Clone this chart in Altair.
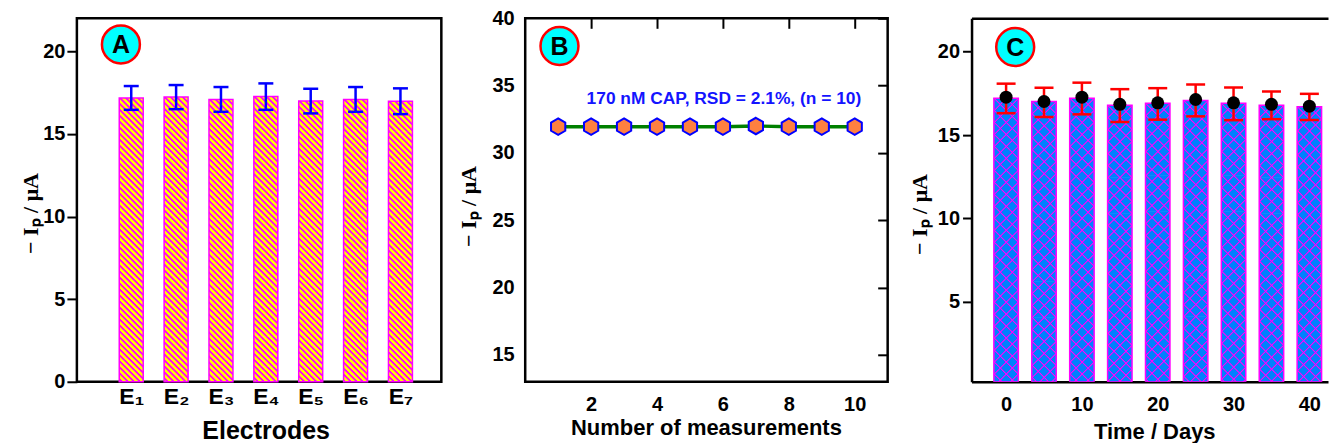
import json
import altair as alt
import pandas as pd

SANS = "Liberation Sans"
SERIF = "Liberation Serif"

# ---------------- data ----------------
# Panel A: reproducibility of 7 electrodes
electrodes = ["E₁", "E₂", "E₃", "E₄", "E₅", "E₆", "E₇"]
electrode_pos = [1, 2, 3, 4, 5, 6, 7]
a_current = [17.18, 17.23, 17.09, 17.26, 16.99, 17.09, 16.98]
a_err = [0.72, 0.73, 0.75, 0.80, 0.745, 0.75, 0.78]

# Panel B: repeatability, 10 measurements
measurement_no = [1, 2, 3, 4, 5, 6, 7, 8, 9, 10]
b_current = [31.95, 31.95, 31.95, 31.95, 31.95, 31.95, 32.0, 31.95, 31.95, 31.95]
b_note = ["170 nM CAP, RSD = 2.1%, (n = 10)"]
b_note_x = [6.03]
b_note_y = [33.97]

# Panel C: stability over days
days = [0, 5, 10, 15, 20, 25, 30, 35, 40]
c_bar = [17.21, 17.01, 17.21, 16.78, 16.90, 17.07, 16.90, 16.78, 16.70]
c_dot = [17.27, 17.01, 17.27, 16.84, 16.93, 17.13, 16.93, 16.84, 16.73]
c_low = [16.31, 16.08, 16.24, 15.78, 15.92, 16.12, 15.89, 15.95, 15.90]
c_high = [18.08, 17.83, 18.14, 17.75, 17.81, 18.03, 17.85, 17.61, 17.47]

# Panel letters
panel_letters = ["A", "B", "C"]
letter_x = [0.77, 1.04, 1.2]
letter_y = [20.42, 37.94, 20.28]

y_title = "−   Iₚ   /   μA"

H = 364
A_DOMAIN_Y = [0, 22]
C_DOMAIN_Y = [0.2, 22]


# ---------------- helpers ----------------
def stripe_gradient(w, h, period, line_w, line, bg, direction, soft=1.0):
    """Linear gradient drawing 45-degree stripes (softened edges) in a w x h box."""
    r = w / h
    k = (1 + r) / (1 + r * r)
    total = w + h
    hs = soft / 2.0
    pts = []  # (s, colour)
    s = 0.0
    pts.append((0.0, line))
    while s < total + period:
        pts.append((s + hs, line))
        pts.append((s + line_w - hs, line))
        pts.append((s + line_w + hs, bg))
        pts.append((s + period - hs, bg))
        s += period
    stops = []
    last = -1.0
    for sv, col in pts:
        off = min(max(sv / total, 0.0), 1.0)
        if off < last:
            continue
        stops.append(alt.GradientStop(offset=round(off, 6), color=col))
        last = off
        if off >= 1.0:
            break
    if direction == "down":
        x1, y1, x2, y2 = 0, 1, k * r, 1 - k
    else:
        x1, y1, x2, y2 = 0, 0, k * r, k
    return alt.LinearGradient(gradient="linear", stops=stops,
                              x1=round(x1, 6), y1=round(y1, 6),
                              x2=round(x2, 6), y2=round(y2, 6))


def segment_table(positions, tops, seg, eps, bottom):
    """Split every bar into equal pieces (from its top downward) for the hatch fill."""
    rows = []
    for p, t in zip(positions, tops):
        k = 1
        while t - (k - 1) * seg > bottom:
            rows.append({"pos": p, "s_lo": t - k * seg - eps, "s_hi": t - (k - 1) * seg})
            k += 1
    return pd.DataFrame(rows)


def letter_layers(idx, xs, ys):
    df = pd.DataFrame({"x": [letter_x[idx]], "y": [letter_y[idx]], "t": [panel_letters[idx]]})
    circ = alt.Chart(df).mark_point(shape="circle", filled=True, fill="#00ffff",
                                    stroke="#ff0000", strokeWidth=2.5, size=1444,
                                    opacity=1).encode(
        x=alt.X("x:Q", scale=xs, axis=None), y=alt.Y("y:Q", scale=ys, axis=None))
    txt = alt.Chart(df).mark_text(font=SANS, fontWeight="bold", fontSize=25,
                                  color="black", dy=1).encode(
        x=alt.X("x:Q", scale=xs, axis=None), y=alt.Y("y:Q", scale=ys, axis=None),
        text="t:N")
    return circ, txt


# ---------------- Panel A ----------------
dfA = pd.DataFrame({
    "pos": electrode_pos,
    "cur": a_current,
    "base": [A_DOMAIN_Y[0]] * len(a_current),
    "lo": [c - e for c, e in zip(a_current, a_err)],
    "hi": [c + e for c, e in zip(a_current, a_err)],
})
xA = alt.Scale(domain=[-0.1, 7.8], nice=False, zero=False)
yA = alt.Scale(domain=A_DOMAIN_Y, nice=False, zero=False)
pxA = H / (A_DOMAIN_Y[1] - A_DOMAIN_Y[0])
SEG_A, EPS = 30.0, 0.6
segA = segment_table(electrode_pos, a_current, SEG_A / pxA, EPS / pxA, A_DOMAIN_Y[0])
gradA = stripe_gradient(24, SEG_A + EPS, 6.0, 2.5, "#ff00ff", "#ffff00", "down", soft=1.0)

label_expr = json.dumps(electrodes, ensure_ascii=False) + "[datum.value - 1]"
axis_xA = alt.Axis(values=electrode_pos, labelExpr=label_expr, ticks=False, tickSize=0,
                   domain=False, labelPadding=4, labelFontSize=23, labelFlush=False,
                   labelOverlap=False, title="Electrodes", titleFontSize=25,
                   titleX=189, titleY=57, titleBaseline="alphabetic", titleAlign="center")
axis_yA = alt.Axis(values=[0, 5, 10, 15, 20], tickSize=10, tickWidth=2, labelPadding=2,
                   domain=False, labelFontSize=20, title=y_title, titleFont=SERIF,
                   titleFontSize=22, titleX=-46, titleY=195, titleAngle=270,
                   titleAlign="center", titleBaseline="middle")

hatchA = alt.Chart(segA).mark_bar(size=24, fill=gradA, strokeWidth=0, clip=True).encode(
    x=alt.X("pos:Q", scale=xA, axis=None), y=alt.Y("s_lo:Q", scale=yA, axis=None), y2="s_hi:Q")
outlineA = alt.Chart(dfA).mark_bar(size=24, fill="transparent", stroke="#ff00ff",
                                   strokeWidth=1.5).encode(
    x=alt.X("pos:Q", scale=xA, axis=axis_xA), y=alt.Y("cur:Q", scale=yA, axis=axis_yA),
    y2="base:Q")
ruleA = alt.Chart(dfA).mark_rule(color="#0000ff", strokeWidth=2.5).encode(
    x=alt.X("pos:Q", scale=xA, axis=None), y=alt.Y("lo:Q", scale=yA, axis=None), y2="hi:Q")
capLoA = alt.Chart(dfA).mark_tick(orient="horizontal", size=15, thickness=2.5, color="#0000ff",
                                  opacity=1).encode(
    x=alt.X("pos:Q", scale=xA, axis=None), y=alt.Y("lo:Q", scale=yA, axis=None))
capHiA = alt.Chart(dfA).mark_tick(orient="horizontal", size=15, thickness=2.5, color="#0000ff",
                                  opacity=1).encode(
    x=alt.X("pos:Q", scale=xA, axis=None), y=alt.Y("hi:Q", scale=yA, axis=None))
circA, txtA = letter_layers(0, xA, yA)
panelA = alt.layer(hatchA, outlineA, ruleA, capLoA, capHiA, circA, txtA).resolve_axis(
    x="independent", y="independent").properties(
    width=365, height=H, view=alt.ViewBackground(stroke="black", strokeWidth=2.5))

# ---------------- Panel B ----------------
dfB = pd.DataFrame({"n": measurement_no, "cur": b_current})
xB = alt.Scale(domain=[0, 11], nice=False, zero=False)
yB = alt.Scale(domain=[13, 40], nice=False, zero=False)
axis_xB = alt.Axis(values=[2, 4, 6, 8, 10], ticks=False, tickSize=0, domain=False,
                   labelPadding=13, labelFontSize=20, labelFlush=False,
                   title="Number of measurements", titleFontSize=22,
                   titleX=181, titleY=53, titleBaseline="alphabetic", titleAlign="center")
axis_yB = alt.Axis(values=[15, 20, 25, 30, 35, 40], ticks=False, tickSize=0, domain=False,
                   labelPadding=11, labelFontSize=20, title=y_title, titleFont=SERIF,
                   titleFontSize=22, titleX=-57, titleY=188, titleAngle=270,
                   titleAlign="center", titleBaseline="middle")
tick_xB = alt.Axis(values=[2, 4, 6, 8, 10], labels=False, domain=False, ticks=True,
                   tickSize=10, tickWidth=2, offset=-10, title=None)
tick_yB = alt.Axis(values=[15, 20, 25, 30, 35, 40], labels=False, domain=False, ticks=True,
                   tickSize=10, tickWidth=2, offset=-10, title=None)
hexagon = "M0,-1L0.866,-0.5L0.866,0.5L0,1L-0.866,0.5L-0.866,-0.5Z"

lineB = alt.Chart(dfB).mark_line(color="#008000", strokeWidth=3.5).encode(
    x=alt.X("n:Q", scale=xB, axis=axis_xB), y=alt.Y("cur:Q", scale=yB, axis=axis_yB))
ptsB = alt.Chart(dfB).mark_point(shape=hexagon, filled=True, fill="#ff8040", stroke="#0000ff",
                                 strokeWidth=2, size=272, opacity=1).encode(
    x=alt.X("n:Q", scale=xB, axis=tick_xB), y=alt.Y("cur:Q", scale=yB, axis=tick_yB))
dfNote = pd.DataFrame({"x": b_note_x, "y": b_note_y, "t": b_note})
noteB = alt.Chart(dfNote).mark_text(font=SANS, fontWeight="bold", fontSize=17.4,
                                    color="#1414ff").encode(
    x=alt.X("x:Q", scale=xB, axis=None), y=alt.Y("y:Q", scale=yB, axis=None), text="t:N")
circB, txtB = letter_layers(1, xB, yB)
panelB = alt.layer(lineB, ptsB, noteB, circB, txtB).resolve_axis(
    x="independent", y="independent").properties(
    width=363, height=H, view=alt.ViewBackground(stroke="black", strokeWidth=2.5))

# ---------------- Panel C ----------------
dfC = pd.DataFrame({"day": days, "bar": c_bar, "dot": c_dot, "lo": c_low, "hi": c_high,
                    "base": [C_DOMAIN_Y[0]] * len(days)})
xC = alt.Scale(domain=[-3.9, 41.8], nice=False, zero=False)
yC = alt.Scale(domain=C_DOMAIN_Y, nice=False, zero=False)
pxC = H / (C_DOMAIN_Y[1] - C_DOMAIN_Y[0])
SEG_C = 36.0
segC = segment_table(days, c_bar, SEG_C / pxC, EPS / pxC, C_DOMAIN_Y[0])
gradC1 = stripe_gradient(24.5, SEG_C + EPS, 12.0, 1.5, "#ff00ff", "#0080ff", "down", soft=1.0)
gradC2 = stripe_gradient(24.5, SEG_C + EPS, 12.0, 1.5, "#ff00ff", "rgba(255,0,255,0)", "up",
                         soft=1.0)

axis_xC = alt.Axis(values=[0, 10, 20, 30, 40], ticks=False, tickSize=0, domain=True,
                   domainWidth=2.5, labelPadding=13, labelFontSize=20, labelFlush=False,
                   title="Time / Days", titleFontSize=22, titleX=183, titleY=57,
                   titleBaseline="alphabetic", titleAlign="center")
axis_topC = alt.Axis(orient="top", labels=False, ticks=False, domain=True, domainWidth=2.5,
                     title=None)
axis_yC = alt.Axis(values=[5, 10, 15, 20], tickSize=9, tickWidth=2, labelPadding=3,
                   domain=True, domainWidth=2.5, labelFontSize=20, title=y_title,
                   titleFont=SERIF, titleFontSize=22, titleX=-52, titleY=196, titleAngle=270,
                   titleAlign="center", titleBaseline="middle")

hatchC1 = alt.Chart(segC).mark_bar(size=24.5, fill=gradC1, strokeWidth=0, clip=True).encode(
    x=alt.X("pos:Q", scale=xC, axis=None), y=alt.Y("s_lo:Q", scale=yC, axis=None), y2="s_hi:Q")
hatchC2 = alt.Chart(segC).mark_bar(size=24.5, fill=gradC2, strokeWidth=0, clip=True).encode(
    x=alt.X("pos:Q", scale=xC, axis=None), y=alt.Y("s_lo:Q", scale=yC, axis=None), y2="s_hi:Q")
outlineC = alt.Chart(dfC).mark_bar(size=24.5, fill="transparent", stroke="#ff00ff",
                                   strokeWidth=1.5, clip=True).encode(
    x=alt.X("day:Q", scale=xC, axis=axis_xC), y=alt.Y("bar:Q", scale=yC, axis=axis_yC),
    y2="base:Q")
topC = alt.Chart(dfC).mark_point(opacity=0).encode(
    x=alt.X("day:Q", scale=xC, axis=axis_topC), y=alt.Y("bar:Q", scale=yC, axis=None))
ruleC = alt.Chart(dfC).mark_rule(color="#ff0000", strokeWidth=2.5).encode(
    x=alt.X("day:Q", scale=xC, axis=None), y=alt.Y("lo:Q", scale=yC, axis=None), y2="hi:Q")
capLoC = alt.Chart(dfC).mark_tick(orient="horizontal", size=19, thickness=2.5, color="#ff0000",
                                  opacity=1).encode(
    x=alt.X("day:Q", scale=xC, axis=None), y=alt.Y("lo:Q", scale=yC, axis=None))
capHiC = alt.Chart(dfC).mark_tick(orient="horizontal", size=19, thickness=2.5, color="#ff0000",
                                  opacity=1).encode(
    x=alt.X("day:Q", scale=xC, axis=None), y=alt.Y("hi:Q", scale=yC, axis=None))
dotC = alt.Chart(dfC).mark_point(shape="circle", filled=True, color="black", size=169,
                                 opacity=1).encode(
    x=alt.X("day:Q", scale=xC, axis=None), y=alt.Y("dot:Q", scale=yC, axis=None))
circC, txtC = letter_layers(2, xC, yC)
panelC = alt.layer(hatchC1, hatchC2, outlineC, topC, ruleC, capLoC, capHiC, dotC,
                   circC, txtC).resolve_axis(x="independent", y="independent").properties(
    width=357, height=H, view=alt.ViewBackground(stroke="transparent"))

chart = alt.hconcat(panelA, panelB, panelC, spacing=84, bounds="flush").properties(
    padding={"left": 18, "top": 6, "right": 0, "bottom": 0},
    background="white",
).configure_axis(
    labelFont=SANS, labelFontWeight="bold", labelColor="black",
    titleFont=SANS, titleFontWeight="bold", titleColor="black",
    tickColor="black", domainColor="black", grid=False,
).configure_view(stroke="transparent")

chart.save("out.html", embed_options={"renderer": "svg", "actions": False})
